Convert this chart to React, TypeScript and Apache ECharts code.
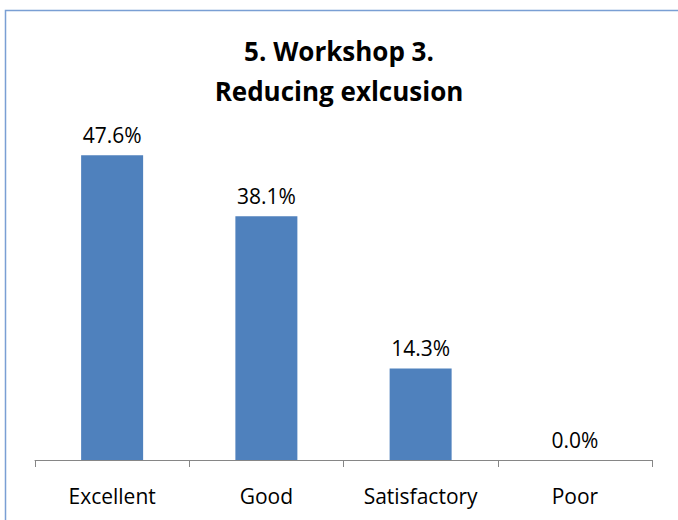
import React, { useEffect, useRef } from "react";
import * as echarts from "echarts";

const categories = ["Excellent", "Good", "Satisfactory", "Poor"];
const values = [47.6, 38.1, 14.3, 0.0];
const titleLines = ["5. Workshop 3.", "Reducing exlcusion"];

export default function App() {
  const ref = useRef<HTMLDivElement>(null);
  useEffect(() => {
    if (!ref.current) return;
    const chart = echarts.init(ref.current, undefined, { renderer: "svg" });
    chart.setOption({
      animation: false,
      backgroundColor: "#ffffff",
      graphic: [
        {
          type: "rect",
          shape: { x: 5.5, y: 10.5, width: 800, height: 700 },
          style: { fill: "none", stroke: "#7a9fd4", lineWidth: 1.5 },
          silent: true,
        },
      ],
      title: {
        text: titleLines.join("\n"),
        left: "center",
        top: 26,
        textStyle: {
          fontFamily: "Open Sans",
          fontWeight: "bold",
          fontSize: 26,
          lineHeight: 40,
          color: "#000000",
        },
      },
      grid: { left: 35, right: 26, top: 140, bottom: 60 },
      xAxis: {
        type: "category",
        data: categories,
        axisLine: { lineStyle: { color: "#868686", width: 1 } },
        axisTick: { show: true, length: 7, lineStyle: { color: "#868686" } },
        axisLabel: {
          color: "#000000",
          fontFamily: "Open Sans",
          fontSize: 21,
          margin: 25,
        },
      },
      yAxis: {
        type: "value",
        min: 0,
        max: 50,
        show: false,
        splitLine: { show: false },
      },
      series: [
        {
          type: "bar",
          data: values,
          barWidth: 62,
          itemStyle: { color: "#4f81bd" },
          label: {
            show: true,
            position: "top",
            distance: 10,
            color: "#000000",
            fontFamily: "Open Sans",
            fontSize: 21,
            formatter: (p: any) => p.value.toFixed(1) + "%",
          },
        },
      ],
    });
    return () => chart.dispose();
  }, []);
  return (
    <div
      ref={ref}
      style={{ position: "absolute", left: 0, top: 0, width: 678, height: 520 }}
    />
  );
}
